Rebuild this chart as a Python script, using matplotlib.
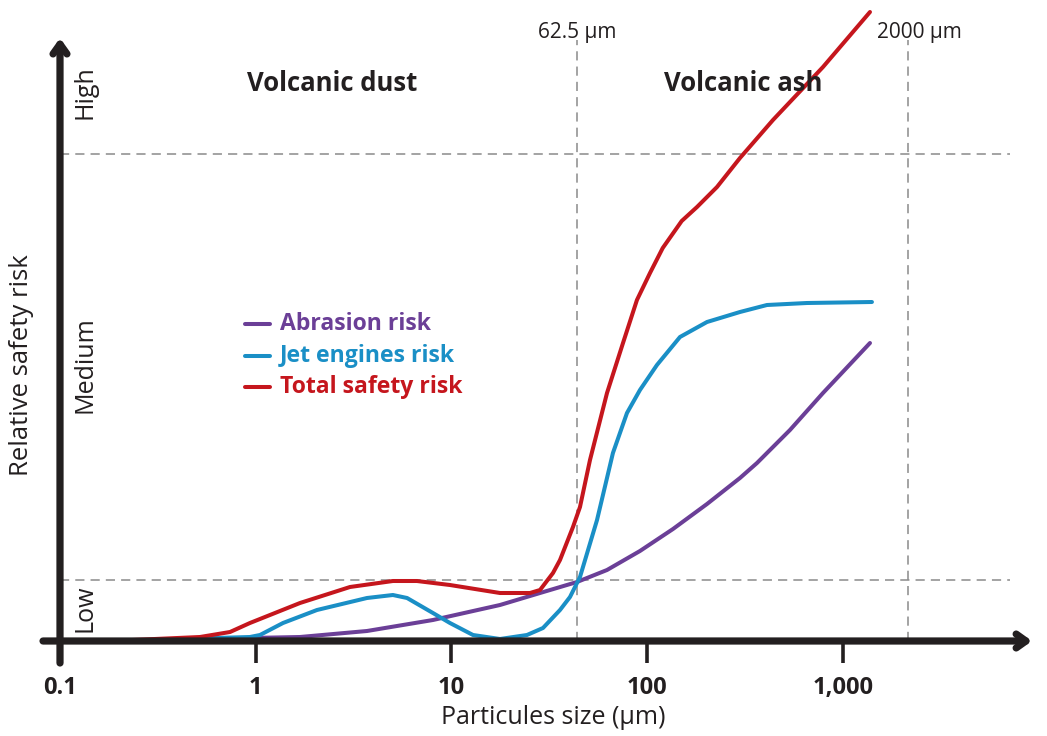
"""Relative safety risk vs particle size for volcanic dust and ash."""

import matplotlib
matplotlib.use('Agg')
import matplotlib.pyplot as plt
import matplotlib.transforms as mtransforms

plt.rcParams['font.family'] = ['Open Sans', 'DejaVu Sans']

# particle size (µm) and relative risk (arbitrary units)
total_x = [0.18, 0.519, 0.739, 0.934, 1.683, 3.03, 5.02, 6.66, 9.82, 17.69,
           25.18, 28.33, 33.0, 35.84, 41.75, 45.34, 51.0, 62.3, 75.2, 88.6,
           103.3, 120.0, 150.0, 179.6, 227.2, 297.7, 438.9, 790.5, 1374]
total_y = [0, 0.04, 0.09, 0.18, 0.38, 0.54, 0.60, 0.60, 0.56, 0.48, 0.48,
           0.51, 0.68, 0.81, 1.14, 1.34, 1.81, 2.48, 2.98, 3.41, 3.68, 3.93,
           4.20, 4.34, 4.54, 4.83, 5.21, 5.74, 6.29]

jet_x = [0.18, 0.934, 1.051, 1.378, 2.055, 3.70, 5.02, 5.93, 8.04, 9.82,
         12.88, 17.69, 24.30, 29.34, 35.84, 40.31, 45.34, 55.4, 66.8, 78.8,
         91.8, 112.1, 147.0, 202.0, 297.7, 409.0, 654.8, 1406]
jet_y = [0, 0.04, 0.06, 0.18, 0.31, 0.43, 0.46, 0.43, 0.28, 0.18, 0.06, 0.02,
         0.06, 0.13, 0.31, 0.44, 0.64, 1.21, 1.88, 2.28, 2.51, 2.76, 3.04,
         3.19, 3.29, 3.36, 3.38, 3.39]

abr_x = [0.18, 0.519, 1.683, 3.70, 8.04, 17.69, 28.33, 43.76, 62.3, 91.8,
         135.4, 202.0, 297.7, 363.7, 536.1, 790.5, 1374]
abr_y = [0, 0.02, 0.04, 0.10, 0.21, 0.36, 0.48, 0.59, 0.71, 0.90, 1.12, 1.37,
         1.63, 1.78, 2.11, 2.48, 2.98]

series_names = ['Abrasion risk', 'Jet engines risk', 'Total safety risk']
series_colors = ['#6b3f97', '#1a8fc6', '#c5161d']

tick_pos = [0.1, 1, 10, 100, 1000]
tick_labels = ['0.1', '1', '10', '100', '1,000']

level_names = ['Low', 'Medium', 'High']
level_pos = [0.33, 2.76, 5.49]
level_lines = [0.61, 4.87]

boundary_pos = [43.76, 2150]
boundary_labels = ['62.5 µm', '2000 µm']
boundary_label_pos = [43.76, 2470]

region_names = ['Volcanic dust', 'Volcanic ash']
region_pos = [2.45, 308]

AX_COLOR = '#231f20'
DASH_COLOR = '#8a8a8a'

fig = plt.figure(figsize=(10.47, 7.36), dpi=100, facecolor='white')
ax = fig.add_axes([60 / 1047, 95 / 736, 975 / 1047, 611 / 736])
ax.set_xscale('log')
ax.set_xlim(0.1, 9572)
ax.set_ylim(0, 6.11)
for s in ax.spines.values():
    s.set_visible(False)
ax.set_yticks([])
ax.minorticks_off()
ax.set_xticks(tick_pos)
ax.set_xticklabels(tick_labels, fontsize=17, fontweight='bold', color=AX_COLOR)
ax.tick_params(axis='x', direction='out', length=16, width=2.6,
               color=AX_COLOR, pad=9)

# dashed reference lines
for lv in level_lines:
    ax.plot([0.1, 7130], [lv, lv], color=DASH_COLOR, lw=1.1,
            ls=(0, (6, 4)), zorder=1, clip_on=False)
for bx in boundary_pos:
    ax.plot([bx, bx], [0, 6.01], color=DASH_COLOR, lw=1.1,
            ls=(0, (6, 4)), zorder=1, clip_on=False)
for lx, bl in zip(boundary_label_pos, boundary_labels):
    ax.text(lx, 6.09, bl, ha='center', va='center', fontsize=15,
            color=AX_COLOR, clip_on=False)

# curves
for xs, ys, c in zip([abr_x, jet_x, total_x], [abr_y, jet_y, total_y],
                     series_colors):
    ax.plot(xs, ys, color=c, lw=2.9, solid_joinstyle='round',
            solid_capstyle='round', zorder=3, clip_on=False)

# axes with arrowheads
arrow = dict(arrowstyle='->,head_length=0.7,head_width=0.5', lw=5.2,
             color=AX_COLOR, shrinkA=0, shrinkB=0)
ax.annotate('', xy=(9250, 0), xytext=(0.0819, 0), arrowprops=arrow,
            annotation_clip=False, zorder=4)
ax.annotate('', xy=(0.1, 6.03), xytext=(0.1, -0.22), arrowprops=arrow,
            annotation_clip=False, zorder=4)

# risk levels along the y axis
trans = mtransforms.blended_transform_factory(ax.transAxes, ax.transData)
for name, yp in zip(level_names, level_pos):
    ax.text(0.0256, yp, name, transform=trans, rotation=90, ha='center',
            va='center', fontsize=18, color=AX_COLOR)

# region titles
for name, xp in zip(region_names, region_pos):
    ax.text(xp, 5.58, name, ha='center', va='center', fontsize=18.5,
            fontweight='bold', color=AX_COLOR)

# legend drawn by hand
for i, (name, c) in enumerate(zip(series_names, series_colors)):
    yy = 0.5188 - i * 0.0516
    ax.plot([0.1897, 0.2154], [yy, yy], transform=ax.transAxes, color=c,
            lw=2.9, solid_capstyle='round')
    ax.text(0.2256, yy, name, transform=ax.transAxes, ha='left', va='center',
            fontsize=16.6, fontweight='bold', color=c)

fig.text(22 / 1047, 1 - 365 / 736, 'Relative safety risk', rotation=90,
         ha='center', va='center', fontsize=18.5, color=AX_COLOR)
fig.text(553 / 1047, 1 - 718 / 736, 'Particules size (µm)', ha='center',
         va='center', fontsize=18, color=AX_COLOR)

fig.savefig('out.png', dpi=100, facecolor='white')
